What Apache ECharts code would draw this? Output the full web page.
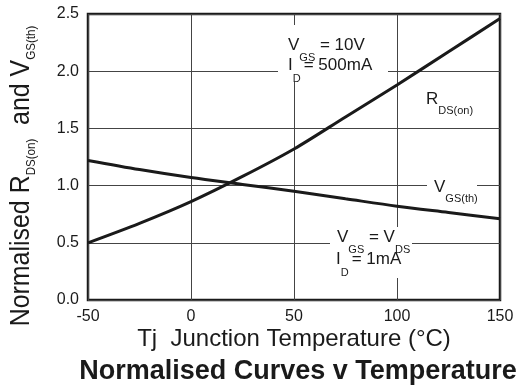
<!DOCTYPE html>
<html>
<head>
<meta charset="utf-8">
<script src="https://cdn.jsdelivr.net/npm/echarts@6/dist/echarts.min.js"></script>
<style>
  html, body { margin: 0; padding: 0; background: #fff; }
  #chart { width: 525px; height: 387px; }
</style>
</head>
<body>
<div id="chart"></div>
<script>
// junction temperature (°C) and the two normalised curves
const temps = [-50, -25, 0, 25, 50, 75, 100, 125, 150]
const rdsOn = [0.50, 0.67, 0.86, 1.08, 1.32, 1.60, 1.88, 2.17, 2.46]
const vgsTh = [1.22, 1.14, 1.07, 1.01, 0.95, 0.885, 0.82, 0.765, 0.71]
const xTicks = [-50, 0, 50, 100, 150]
const yTicks = [0, 0.5, 1.0, 1.5, 2.0, 2.5]

const FONT = '"Liberation Sans", Arial, sans-serif'
const INK = '#1a1a1a'

const chart = echarts.init(document.getElementById('chart'))

// text with low-hanging subscripts, {b|..} normal and {s|..} subscript
function subText(x, y, text, size, subSize, drop, align) {
  return {
    type: 'text', x, y, z: 51,
    style: {
      text, verticalAlign: 'top', align: align || 'left',
      rich: {
        b: { fontSize: size, lineHeight: size, fontFamily: FONT, fill: INK, verticalAlign: 'top' },
        s: { fontSize: subSize, lineHeight: subSize, fontFamily: FONT, fill: INK, verticalAlign: 'top', padding: [drop, 0, 0, 0] }
      }
    }
  }
}

function whiteBox(x, y, w, h) {
  return { type: 'rect', shape: { x, y, width: w, height: h }, style: { fill: '#fff' }, z: 50 }
}

const pair = (ys) => temps.map((t, i) => [t, ys[i]])

chart.setOption({
  animation: false,
  backgroundColor: '#fff',
  grid: { left: 88, top: 14, width: 412, height: 286, show: true, borderColor: INK, borderWidth: 2.5, backgroundColor: 'transparent' },
  xAxis: {
    type: 'value', min: xTicks[0], max: xTicks[xTicks.length - 1], interval: 50,
    axisLine: { show: false }, axisTick: { show: false },
    axisLabel: { color: INK, fontSize: 16, fontFamily: FONT, margin: 9 },
    splitLine: { lineStyle: { color: '#444', width: 1 } }
  },
  yAxis: {
    type: 'value', min: yTicks[0], max: yTicks[yTicks.length - 1], interval: 0.5,
    axisLine: { show: false }, axisTick: { show: false },
    axisLabel: { color: INK, fontSize: 16, fontFamily: FONT, margin: 9, formatter: (v) => v.toFixed(1) },
    splitLine: { lineStyle: { color: '#444', width: 1 } }
  },
  series: [
    { name: 'RDS(on)', type: 'line', smooth: 0.3, showSymbol: false, data: pair(rdsOn), lineStyle: { color: INK, width: 3 }, z: 10 },
    { name: 'VGS(th)', type: 'line', smooth: 0.3, showSymbol: false, data: pair(vgsTh), lineStyle: { color: INK, width: 3 }, z: 10 }
  ],
  graphic: [
    // y axis title, rotated and a little condensed like the original
    Object.assign(subText(7, 176, '{b|Normalised R}{s|DS(on)}{b|  and V}{s|GS(th)}', 28, 13, 18, 'center'), {
      rotation: Math.PI / 2, scaleX: 0.89
    }),
    {
      type: 'text', x: 294, y: 339,
      style: { text: 'Tj  Junction Temperature (°C)', fontSize: 24, fontFamily: FONT, fill: INK, align: 'center', verticalAlign: 'middle' }
    },
    {
      type: 'text', x: 298, y: 372,
      style: { text: 'Normalised Curves v Temperature', fontSize: 27, fontWeight: 'bold', fontFamily: FONT, fill: INK, align: 'center', verticalAlign: 'middle' }
    },
    whiteBox(278, 25, 110, 57),
    subText(288, 37, '{b|V}{s|GS}{b| = 10V}', 17, 11, 15),
    subText(288, 57, '{b|I}{s|D }{b|= 500mA}', 17, 11, 16),
    subText(426, 91, '{b|R}{s|DS(on)}', 17, 11, 14),
    whiteBox(427, 176, 50, 22),
    subText(434, 179, '{b|V}{s|GS(th)}', 17, 11, 14),
    whiteBox(330, 227, 82, 51),
    subText(337, 229, '{b|V}{s|GS}{b| = V}{s|DS}', 17, 11, 15),
    subText(336, 251, '{b|I}{s|D }{b|= 1mA}', 17, 11, 16)
  ]
})
</script>
</body>
</html>
